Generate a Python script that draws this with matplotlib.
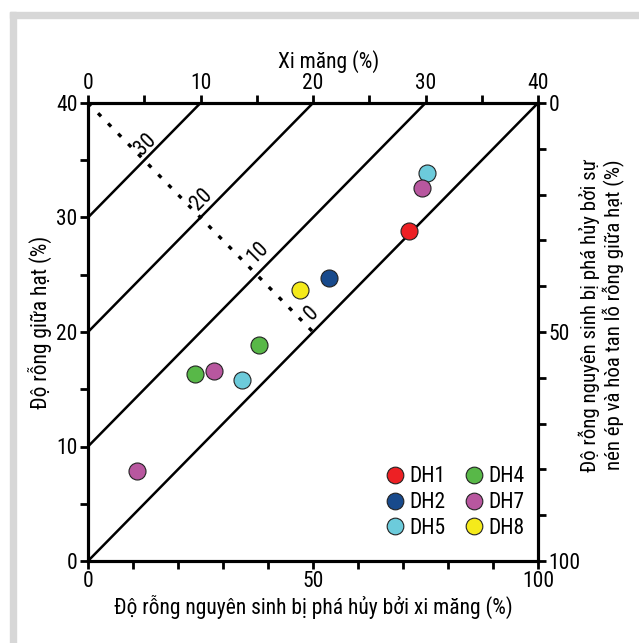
import matplotlib
matplotlib.use("Agg")
import matplotlib.pyplot as plt
from matplotlib import font_manager
from matplotlib.ft2font import FT2Font
from matplotlib.lines import Line2D
from matplotlib.patches import Rectangle

# ---- data ----
series_names = ["DH1", "DH2", "DH5", "DH4", "DH7", "DH8"]
series_colors = ["#ED2024", "#184A8C", "#6CCBDB", "#58B848", "#B8579F", "#F5EA1B"]
# x: primary porosity lost by cementation (%), y: intergranular volume (%)
dh1_x = [71.4]
dh1_y = [28.8]
dh2_x = [53.6]
dh2_y = [24.7]
dh5_x = [75.3, 34.2]
dh5_y = [33.9, 15.8]
dh4_x = [38.0, 23.8]
dh4_y = [18.9, 16.3]
dh7_x = [74.2, 28.0, 10.8]
dh7_y = [32.6, 16.6, 7.9]
dh8_x = [47.1]
dh8_y = [23.7]

# iso-cement lines y = 0.4 x + c, and labels along the dotted guide
iso_offsets = [0, 10, 20, 30]
iso_labels = ["0", "10", "20", "30"]
iso_label_x = [49.6, 37.8, 25.3, 12.9]
iso_label_y = [21.6, 26.9, 31.6, 36.4]
guide_x = [0, 50]
guide_y = [40, 20]

bottom_ticks = [0, 50, 100]
left_ticks = [0, 10, 20, 30, 40]
top_ticks = [0, 10, 20, 30, 40]
right_ticks = [0, 50, 100]

bottom_title = "Độ rỗng nguyên sinh bị phá hủy bởi xi măng (%)"
left_title = "Độ rỗng giữa hạt (%)"
top_title = "Xi măng (%)"
right_title_lines = ["Độ rỗng nguyên sinh bị phá hủy bởi sự",
                     "nén ép và hòa tan lỗ rỗng giữa hạt (%)"]

# ---- fonts: first narrow family that covers every character used ----
all_text = [bottom_title, left_title, top_title] + right_title_lines + series_names + ["0123456789"]
all_chars = set("".join(all_text))
family = "DejaVu Sans"
for cand in ["Roboto Condensed", "Liberation Sans Narrow", "Open Sans Condensed",
             "Noto Sans Condensed", "Roboto", "Liberation Sans"]:
    try:
        path = font_manager.findfont(font_manager.FontProperties(family=cand),
                                     fallback_to_default=False)
    except Exception:
        continue
    cmap = FT2Font(path).get_charmap()
    if all(ord(ch) in cmap for ch in all_chars if ch != " "):
        family = cand
        break
plt.rcParams["font.family"] = [family, "DejaVu Sans"]
FS = 15.5

W, H = 639, 643
fig = plt.figure(figsize=(W / 100, H / 100), dpi=100)
fig.patch.set_facecolor("white")

# light grey frame strips
fig.patches.append(Rectangle((10 / W, 0), 6 / W, 1 - 12 / H,
                             transform=fig.transFigure, color="#d7d7d7", zorder=0))
fig.patches.append(Rectangle((10 / W, 1 - 18 / H), 1, 6 / H,
                             transform=fig.transFigure, color="#d7d7d7", zorder=0))

L, R, B, T = 88 / W, 538 / W, 1 - 561 / H, 1 - 103 / H
ax = fig.add_axes([L, B, R - L, T - B])
ax.set_xlim(0, 100)
ax.set_ylim(0, 40)

lw_sp = 2.2
for s in ax.spines.values():
    s.set_linewidth(lw_sp)

# iso lines
for c in iso_offsets:
    xe = min(100, (40 - c) / 0.4)
    ax.plot([0, xe], [c, 0.4 * xe + c], color="black", lw=1.8, solid_capstyle="butt", zorder=2)

ax.plot(guide_x, guide_y, color="black", lw=2.4, linestyle=(0, (1.3, 3.0)), zorder=2)
for lab, lx, ly in zip(iso_labels, iso_label_x, iso_label_y):
    ax.text(lx, ly, lab, rotation=45, rotation_mode="anchor", ha="center", va="center",
            fontsize=FS, zorder=3)

# points
xs = [dh1_x, dh2_x, dh5_x, dh4_x, dh7_x, dh8_x]
ys = [dh1_y, dh2_y, dh5_y, dh4_y, dh7_y, dh8_y]
for name, col, x, y in zip(series_names, series_colors, xs, ys):
    ax.scatter(x, y, s=150, color=col, edgecolor="#222222", linewidth=0.8, zorder=4)

handles = [Line2D([], [], marker="o", ls="none", markersize=12, markerfacecolor=c,
                  markeredgecolor="#222222", markeredgewidth=0.8) for c in series_colors]
leg = ax.legend(handles, series_names, ncol=2, frameon=False, loc="lower right",
                bbox_to_anchor=(1.0, 0.02), fontsize=FS, handletextpad=0.1,
                columnspacing=0.7, labelspacing=0.22, borderaxespad=0.2, handlelength=1.2)

# bottom / left ticks
ax.set_xticks(bottom_ticks)
ax.set_xticks(range(0, 101, 10), minor=True)
ax.set_yticks(left_ticks)
ax.set_yticks(range(0, 41, 5), minor=True)
ax.tick_params(which="both", direction="out", length=6, width=2, labelsize=FS, pad=1.5)
ax.set_xlabel(bottom_title, fontsize=FS, labelpad=2)
ax.set_ylabel(left_title, fontsize=FS, labelpad=3)
ax.yaxis.label.set_y(0.52)

# top axis: cement
axt = ax.twiny()
axt.set_xlim(0, 40)
axt.set_xticks(top_ticks)
axt.set_xticks(range(0, 41, 5), minor=True)
axt.tick_params(which="both", direction="out", length=6, width=2, labelsize=FS, pad=0.5)
axt.set_xlabel(top_title, fontsize=FS, labelpad=4)
axt.xaxis.label.set_x(0.535)

# right axis: compaction
axr = ax.twinx()
axr.set_ylim(100, 0)
axr.set_yticks(right_ticks)
axr.set_yticks(range(0, 101, 10), minor=True)
axr.tick_params(which="both", direction="out", length=6, width=2, labelsize=FS, pad=1.5)
for i, line in enumerate(right_title_lines):
    fig.text((589 + 25 * i) / W, 1 - 315 / H, line, rotation=90, ha="center", va="center",
             fontsize=15)
for a in (axt, axr):
    for s in a.spines.values():
        s.set_linewidth(lw_sp)

fig.savefig("out.png", dpi=100)
